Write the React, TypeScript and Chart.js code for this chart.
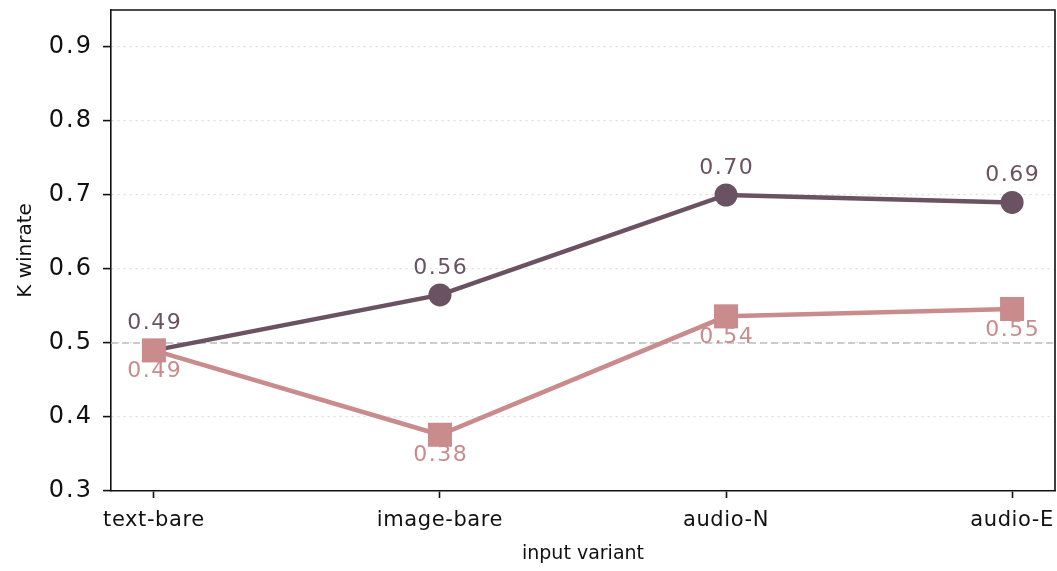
import React, { useEffect, useRef } from "react";
import { Chart, registerables } from "chart.js";

Chart.register(...registerables);

const categories = ["text-bare", "image-bare", "audio-N", "audio-E"];
const seriesKWinrate = [0.49, 0.565, 0.70, 0.69];
const seriesKWinrateLabels = ["0.49", "0.56", "0.70", "0.69"];
const seriesPink = [0.49, 0.376, 0.536, 0.546];
const seriesPinkLabels = ["0.49", "0.38", "0.54", "0.55"];
const yTicks = [0.3, 0.4, 0.5, 0.6, 0.7, 0.8, 0.9];
const referenceValue = 0.5;

const DARK = "#6a5262";
const PINK = "#c98b8c";
const FONT = "'DejaVu Sans', sans-serif";

function wrapSpacing(scale: any, spacing: string) {
  if (!scale || scale.__wrapped) return;
  const orig = scale.drawLabels.bind(scale);
  scale.drawLabels = (area: any) => {
    const ctx = scale.ctx;
    ctx.save();
    (ctx as any).letterSpacing = spacing;
    orig(area);
    ctx.restore();
  };
  scale.__wrapped = true;
}

export default function App() {
  const ref = useRef<HTMLCanvasElement | null>(null);

  useEffect(() => {
    if (!ref.current) return;

    const refLine = {
      id: "refLine",
      beforeDatasetsDraw(chart: any) {
        const { ctx, chartArea, scales } = chart;
        const y = scales.y.getPixelForValue(referenceValue);
        ctx.save();
        ctx.strokeStyle = "#bdbdbd";
        ctx.lineWidth = 1.6;
        ctx.setLineDash([7, 4]);
        ctx.beginPath();
        ctx.moveTo(chartArea.left, y);
        ctx.lineTo(chartArea.right, y);
        ctx.stroke();
        ctx.restore();
      },
    };

    const frame = {
      id: "frame",
      afterLayout(chart: any) {
        wrapSpacing(chart.scales.y, "2px");
        wrapSpacing(chart.scales.x, "0.6px");
      },
      afterDraw(chart: any) {
        const { ctx, chartArea } = chart;
        ctx.save();
        ctx.strokeStyle = "#111";
        ctx.lineWidth = 1.6;
        ctx.beginPath();
        ctx.moveTo(chartArea.left, chartArea.top);
        ctx.lineTo(chartArea.right, chartArea.top);
        ctx.lineTo(chartArea.right, chartArea.bottom);
        ctx.stroke();
        ctx.restore();
      },
    };

    const labelsPlugin = {
      id: "valueLabels",
      afterDatasetsDraw(chart: any) {
        const { ctx } = chart;
        ctx.save();
        ctx.font = `22px ${FONT}`;
        (ctx as any).letterSpacing = "1.5px";
        ctx.textAlign = "center";
        ctx.textBaseline = "middle";
        chart.data.datasets.forEach((ds: any, i: number) => {
          const meta = chart.getDatasetMeta(i);
          const labels: string[] = ds.valueLabels;
          const off: number = ds.labelOffset;
          ctx.fillStyle = ds.borderColor;
          meta.data.forEach((pt: any, j: number) => {
            ctx.fillText(labels[j], pt.x + 0.75, pt.y + off);
          });
        });
        ctx.restore();
      },
    };

    const chart = new Chart(ref.current, {
      type: "line",
      data: {
        datasets: [
          {
            label: "K winrate",
            data: seriesKWinrate.map((v, i) => ({ x: i, y: v })),
            borderColor: DARK,
            backgroundColor: DARK,
            borderWidth: 4.5,
            pointStyle: "circle",
            pointRadius: 11.5,
            pointBorderWidth: 0,
            order: 2,
            valueLabels: seriesKWinrateLabels,
            labelOffset: -27,
          } as any,
          {
            label: "other",
            data: seriesPink.map((v, i) => ({ x: i, y: v })),
            borderColor: PINK,
            backgroundColor: PINK,
            borderWidth: 4.5,
            pointStyle: "rect",
            pointRadius: 17,
            pointBorderWidth: 0,
            order: 1,
            valueLabels: seriesPinkLabels,
            labelOffset: 21,
          } as any,
        ],
      },
      options: {
        animation: false,
        responsive: true,
        maintainAspectRatio: false,
        devicePixelRatio: 1,
        layout: { autoPadding: false, padding: { top: 10, right: 2, left: 0, bottom: 0 } },
        plugins: {
          legend: { display: false },
          tooltip: { enabled: false },
        },
        scales: {
          x: {
            type: "linear",
            min: -0.15,
            max: 3.15,
            afterBuildTicks: (s: any) => {
              s.ticks = categories.map((_, i) => ({ value: i }));
            },
            afterFit: (s: any) => {
              s.height = 80;
              s.paddingLeft = 0;
              s.paddingRight = 0;
            },
            ticks: {
              callback: (v: any) => categories[Math.round(Number(v))] ?? "",
              color: "#111",
              font: { family: FONT, size: 21 },
              padding: 10,
              maxRotation: 0,
              autoSkip: false,
            },
            grid: {
              drawOnChartArea: false,
              drawTicks: true,
              tickLength: 7,
              tickColor: "#111",
              tickWidth: 1.6,
            },
            border: { color: "#111", width: 1.6 },
            title: {
              display: true,
              text: "input variant",
              color: "#111",
              font: { family: FONT, size: 19 },
              padding: { top: 0, bottom: 6 },
            },
          },
          y: {
            type: "linear",
            min: 0.3,
            max: 0.95,
            afterBuildTicks: (s: any) => {
              s.ticks = yTicks.map((v) => ({ value: v }));
            },
            afterFit: (s: any) => {
              s.width = 111;
              s.paddingTop = 0;
              s.paddingBottom = 0;
            },
            ticks: {
              callback: (v: any) => Number(v).toFixed(1),
              color: "#111",
              font: { family: FONT, size: 24 },
              padding: 10,
            },
            grid: {
              color: (c: any) => (c.tick && c.tick.value === 0.3 ? "rgba(0,0,0,0)" : "#dddddd"),
              lineWidth: 1.2,
              drawTicks: true,
              tickLength: 8,
              tickColor: "#111",
              tickWidth: 1.6,
            },
            border: { color: "#111", width: 1.6, dash: [2, 4] },
            title: {
              display: true,
              text: "K winrate",
              color: "#111",
              font: { family: FONT, size: 20 },
              padding: { top: 14, bottom: 0 },
            },
          },
        },
      },
      plugins: [refLine, labelsPlugin, frame],
    } as any);

    return () => chart.destroy();
  }, []);

  return (
    <div style={{ position: "absolute", left: 0, top: 0, width: 1057, height: 571, background: "#fff" }}>
      <canvas ref={ref} />
    </div>
  );
}
